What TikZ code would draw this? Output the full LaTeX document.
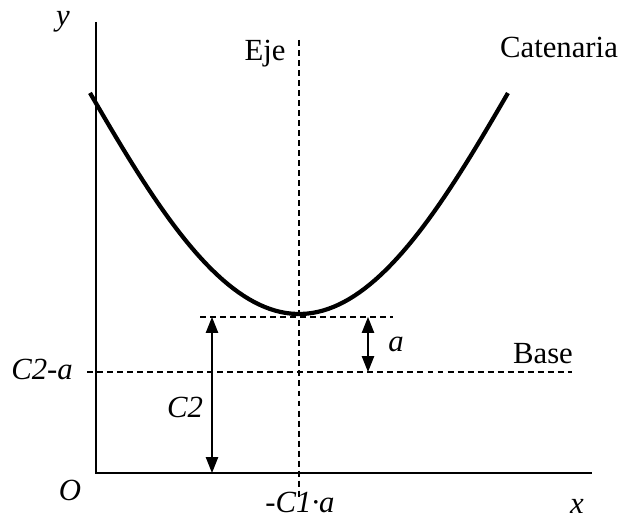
\documentclass[tikz,border=0pt]{standalone}
\usepackage{fontspec}
\setmainfont{Liberation Serif}
\usetikzlibrary{arrows.meta, positioning, calc}

\begin{document}
\begin{tikzpicture}[x=0.02cm, y=-0.02cm,
    >={Triangle[length=9pt, width=7pt]},
    lbl/.style={font=\fontsize{17.5}{20}\selectfont, inner sep=0pt},
    var/.style={font=\fontsize{17.5}{20}\selectfont\itshape, inner sep=0pt},
    guide/.style={dash pattern=on 3.4pt off 2.3pt, line width=0.6pt},
    axis/.style={line width=0.7pt}]
  \useasboundingbox (0,0) rectangle (624,519);

  % ejes
  \coordinate (O) at (96,473);
  \coordinate (ytop) at (96,22);
  \coordinate (xend) at (592,473);
  \draw[axis] (ytop) -- (O) -- (xend);

  % eje de simetria y rectas auxiliares
  \coordinate (ejetop) at (299,40);
  \coordinate (ejebot) at (299,500);
  \draw[guide] (ejetop) -- (ejebot);
  \coordinate (vl) at (200,317);
  \coordinate (vr) at (393,317);
  \draw[guide] (vl) -- (vr);
  \coordinate (bl) at (87,372);
  \coordinate (br) at (572,372);
  \draw[guide] (bl) -- (br);

  % catenaria
  \draw[line width=2.4pt, domain=-2.09:2.09, samples=80]
    plot ({299+100*\x}, {314-60*\x*\x+2.15*\x*\x*\x*\x});

  % cotas
  \coordinate (c2top) at (212,317);
  \coordinate (c2bot) at (212,473);
  \draw[<->, axis] (c2top) -- (c2bot);
  \coordinate (atop) at (368,317);
  \coordinate (abot) at (368,372);
  \draw[<->, axis] (atop) -- (abot);

  % textos
  \node[var, anchor=base] (ylab) at (63,26) {y};
  \node[var, anchor=base] (xlab) at (577,513) {x};
  \node[var, anchor=base] (olab) at (70,500) {O};
  \node[lbl, anchor=base] (eje) at (265,61) {Eje};
  \node[lbl, anchor=base] (cat) at (559,58) {Catenaria};
  \node[lbl, anchor=base] (base) at (543,363) {Base};
  \node[var, anchor=base] (alab) at (396,352) {a};
  \node[var, anchor=base] (c2a) at (42,379) {C2-a};
  \node[var, anchor=base] (c2) at (185,417) {C2};
  \node[var, anchor=base] (c1a) at (300,512) {-C1·a};
\end{tikzpicture}
\end{document}
